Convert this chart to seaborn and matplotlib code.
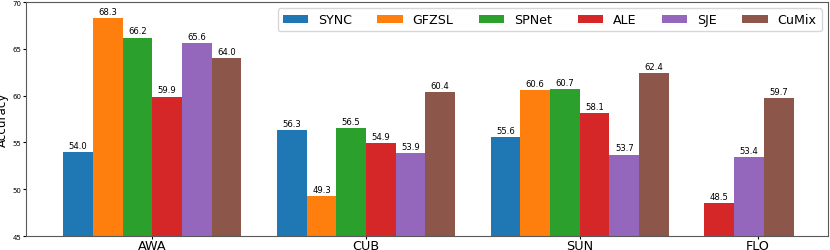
import numpy as np
import pandas as pd
import matplotlib
matplotlib.use("Agg")
import matplotlib.pyplot as plt
import seaborn as sns

# ==========================================
# data (accuracy per dataset / method)
# ==========================================
datasets = ["AWA", "CUB", "SUN", "FLO"]
methods = ["SYNC", "GFZSL", "SPNet", "ALE", "SJE", "CuMix"]

sync_acc = [54.0, 56.3, 55.6, np.nan]
gfzsl_acc = [68.3, 49.3, 60.6, np.nan]
spnet_acc = [66.2, 56.5, 60.7, np.nan]
ale_acc = [59.9, 54.9, 58.1, 48.5]
sje_acc = [65.6, 53.9, 53.7, 53.4]
cumix_acc = [64.0, 60.4, 62.4, 59.7]

colors = sns.color_palette("tab10", 6)

# long format, missing results dropped
series = [sync_acc, gfzsl_acc, spnet_acc, ale_acc, sje_acc, cumix_acc]
rows = []
for gi, d in enumerate(datasets):
    for m, vals in zip(methods, series):
        if not np.isnan(vals[gi]):
            rows.append({"dataset": d, "gidx": gi, "method": m, "acc": vals[gi]})
df = pd.DataFrame(rows)

# bar positions: each group packs its bars from the left
GROUP_STEP = 7.2
df["slot"] = df.groupby("dataset").cumcount()
df["pos"] = df["gidx"] * GROUP_STEP + df["slot"] + 0.5

fig = plt.figure(figsize=(8.3, 2.51), dpi=100)
ax = fig.add_axes([26 / 830, 1 - 237 / 251, 802 / 830, 234 / 251])

sns.barplot(data=df, x="pos", y="acc", hue="method", hue_order=methods,
            palette=colors, saturation=1, native_scale=True, dodge=False,
            width=1.0, errorbar=None, linewidth=0, ax=ax)

for cont in ax.containers:
    ax.bar_label(cont, fmt="%.1f", fontsize=6.1, padding=1.5)

# tick at the middle of each group (FLO label sits a bit right of its bars)
tick_off = [3.0, 3.0, 3.0, 1.8]
ax.set_xticks([i * GROUP_STEP + o for i, o in enumerate(tick_off)])
ax.set_xticklabels(datasets, fontsize=9.2)
ax.set_xlabel("")
ax.set_xlim(-1.25, 25.76)

ax.set_ylim(45, 70)
ax.set_yticks([45, 50, 55, 60, 65, 70])
ax.tick_params(axis="y", labelsize=5, length=2, pad=1.5)
ax.tick_params(axis="x", length=2, pad=0.5)
ax.set_ylabel("Accuracy", fontsize=8.6, labelpad=2)

for s in ax.spines.values():
    s.set_color("0.35")
    s.set_linewidth(0.8)

ax.legend(ncol=6, loc="upper right", fontsize=9.1, frameon=True)

fig.savefig("out.png", dpi=100)
